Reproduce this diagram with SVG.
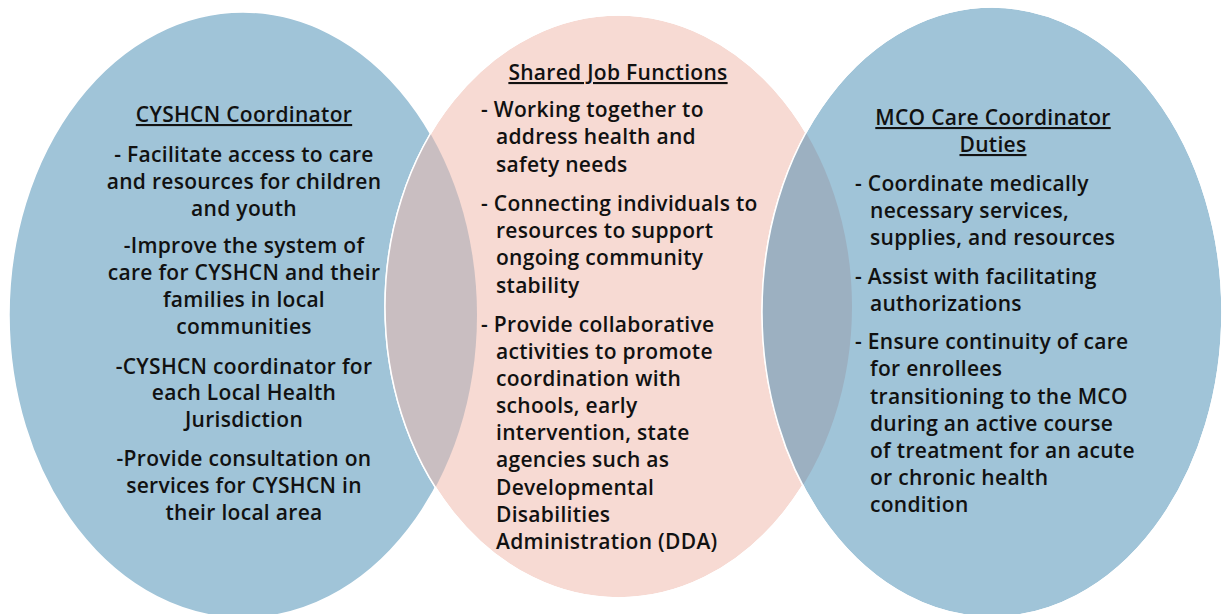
<svg xmlns="http://www.w3.org/2000/svg" width="1222" height="614" viewBox="0 0 1222 614">
<defs>
<style>
.blue{fill:#a0c4d8;stroke:#ffffff;stroke-width:1.5}
.pink{fill:#f7dad3;stroke:#ffffff;stroke-width:1.5}
text{font-family:"Open Sans","Liberation Sans",sans-serif;font-weight:600;font-size:21px;letter-spacing:0.3px;fill:#111111}
.c{text-anchor:middle}
.h{text-decoration:underline}
</style>
<clipPath id="clipMid"><ellipse cx="618.5" cy="306.5" rx="233.5" ry="291.5"/></clipPath>
</defs>
<rect width="1222" height="614" fill="#ffffff"/>
<g id="left-circle">
<ellipse class="blue" cx="243" cy="315" rx="234" ry="303"/>
</g>
<g id="middle-circle">
<ellipse class="pink" cx="618.5" cy="306.5" rx="233.5" ry="291.5"/>
<ellipse cx="243" cy="315" rx="234" ry="303" fill="#c9bec1" clip-path="url(#clipMid)"/>
<ellipse cx="618.5" cy="306.5" rx="233.5" ry="291.5" fill="none" stroke="#ffffff" stroke-width="1.5"/>
</g>
<g id="right-circle">
<ellipse class="blue" cx="992" cy="312" rx="230" ry="305"/>
<ellipse cx="992" cy="312" rx="230" ry="305" fill="#9cb0c1" clip-path="url(#clipMid)"/>
<ellipse cx="992" cy="312" rx="230" ry="305" fill="none" stroke="#ffffff" stroke-width="1.5"/>
</g>
<g id="left-text">
<text class="c h" x="244" y="122">CYSHCN Coordinator</text>
<text class="c" x="244" y="162">- Facilitate access to care</text>
<text class="c" x="244" y="189">and resources for children</text>
<text class="c" x="244" y="216">and youth</text>
<text class="c" x="244" y="253">-Improve the system of</text>
<text class="c" x="244" y="280">care for CYSHCN and their</text>
<text class="c" x="244" y="307">families in local</text>
<text class="c" x="244" y="334">communities</text>
<text class="c" x="244" y="374">-CYSHCN coordinator for</text>
<text class="c" x="244" y="400">each Local Health</text>
<text class="c" x="244" y="427">Jurisdiction</text>
<text class="c" x="244" y="466">-Provide consultation on</text>
<text class="c" x="244" y="493">services for CYSHCN in</text>
<text class="c" x="244" y="520">their local area</text>
</g>
<g id="middle-text">
<text class="c h" x="618" y="80">Shared Job Functions</text>
<text x="481" y="117">- Working together to</text>
<text x="496" y="144">address health and</text>
<text x="496" y="172">safety needs</text>
<text x="481" y="211">- Connecting individuals to</text>
<text x="496" y="238">resources to support</text>
<text x="496" y="265">ongoing community</text>
<text x="496" y="293">stability</text>
<text x="481" y="332">- Provide collaborative</text>
<text x="496" y="359">activities to promote</text>
<text x="496" y="386">coordination with</text>
<text x="496" y="413">schools, early</text>
<text x="496" y="440">intervention, state</text>
<text x="496" y="467">agencies such as</text>
<text x="496" y="495">Developmental</text>
<text x="496" y="522">Disabilities</text>
<text x="496" y="549">Administration (DDA)</text>
</g>
<g id="right-text">
<text class="c h" x="993" y="125">MCO Care Coordinator</text>
<text class="c h" x="993" y="152">Duties</text>
<text x="855" y="191">- Coordinate medically</text>
<text x="870" y="218">necessary services,</text>
<text x="870" y="245">supplies, and resources</text>
<text x="855" y="284">- Assist with facilitating</text>
<text x="870" y="311">authorizations</text>
<text x="855" y="349">- Ensure continuity of care</text>
<text x="870" y="376">for enrollees</text>
<text x="870" y="404">transitioning to the MCO</text>
<text x="870" y="431">during an active course</text>
<text x="870" y="458">of treatment for an acute</text>
<text x="870" y="485">or chronic health</text>
<text x="870" y="512">condition</text>
</g>
</svg>
